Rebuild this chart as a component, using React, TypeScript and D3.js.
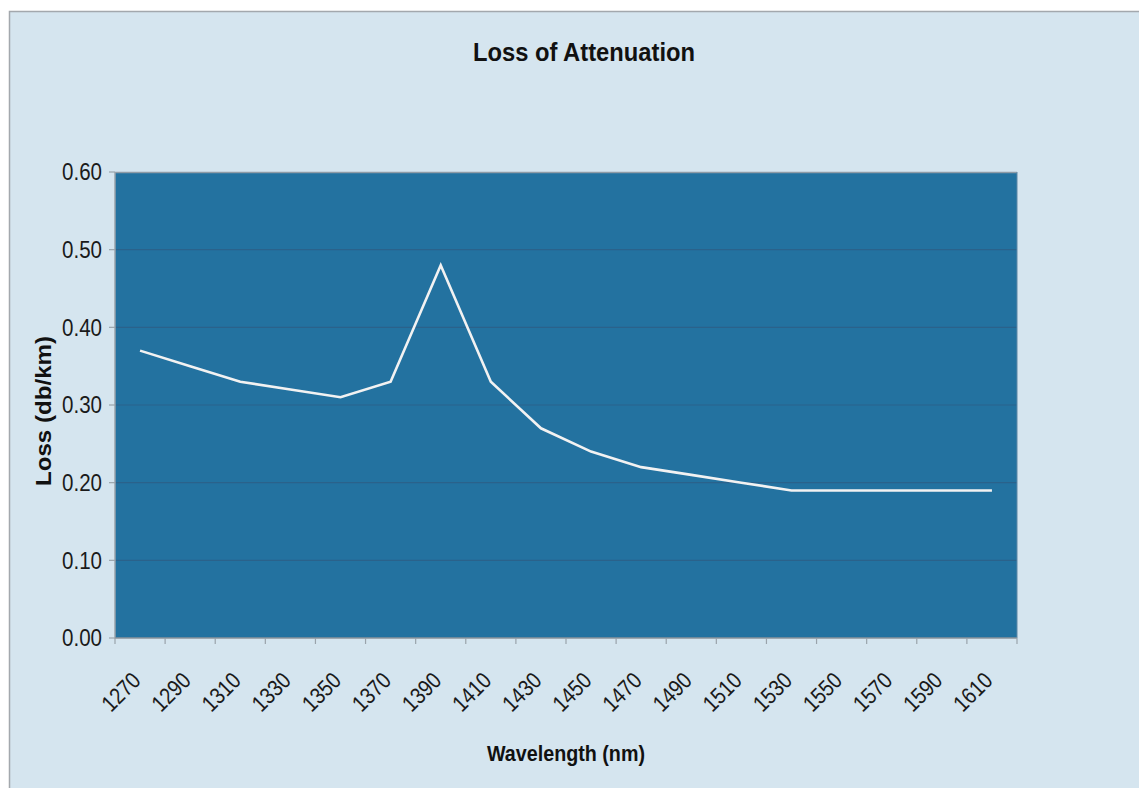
import React from "react";
import * as d3 from "d3";

const wavelengths = [1270, 1290, 1310, 1330, 1350, 1370, 1390, 1410, 1430, 1450, 1470, 1490, 1510, 1530, 1550, 1570, 1590, 1610];
const lossValues = [0.37, 0.35, 0.33, 0.32, 0.31, 0.33, 0.48, 0.33, 0.27, 0.24, 0.22, 0.21, 0.2, 0.19, 0.19, 0.19, 0.19, 0.19];
const yTicks = [0, 0.1, 0.2, 0.3, 0.4, 0.5, 0.6];

const W = 1139;
const H = 788;
const plot = { left: 115, top: 172, right: 1017, bottom: 638 };

export default function App() {
  const x = d3
    .scaleBand<number>()
    .domain(wavelengths)
    .range([plot.left, plot.right])
    .padding(0);
  const y = d3.scaleLinear().domain([0, 0.6]).range([plot.bottom, plot.top]);
  const line = d3
    .line<number>()
    .x((_, i) => (x(wavelengths[i]) as number) + x.bandwidth() / 2)
    .y((d) => y(d));

  const tickXs = wavelengths.map((w) => x(w) as number).concat([plot.right]);
  const font = "'Liberation Sans', Arial, sans-serif";

  return (
    <svg
      width={W}
      height={H}
      style={{ position: "absolute", left: 0, top: 0, background: "#ffffff" }}
    >
      <rect x={9.5} y={11.5} width={1300} height={1000} fill="#d5e5ef" stroke="#a3a8ad" strokeWidth={1.5} />
      <text
        x={584}
        y={61}
        textAnchor="middle"
        fontFamily={font}
        fontWeight="bold"
        fontSize={26}
        textLength={222}
        lengthAdjust="spacingAndGlyphs"
        fill="#111"
      >
        Loss of Attenuation
      </text>

      <rect
        x={plot.left}
        y={plot.top}
        width={plot.right - plot.left}
        height={plot.bottom - plot.top}
        fill="#2372a0"
      />
      {yTicks.slice(1, -1).map((t) => (
        <line
          key={t}
          x1={plot.left}
          x2={plot.right}
          y1={y(t)}
          y2={y(t)}
          stroke="#2a628b"
          strokeWidth={1.2}
        />
      ))}
      <line x1={plot.left} x2={plot.right} y1={plot.top + 0.5} y2={plot.top + 0.5} stroke="#8e9ba6" strokeWidth={1.5} />
      <line x1={plot.right} x2={plot.right} y1={plot.top} y2={plot.bottom} stroke="#5f88a6" strokeWidth={1} />
      <line x1={plot.left} x2={plot.left} y1={plot.top} y2={plot.bottom + 0.5} stroke="#9aa3ab" strokeWidth={1.5} />
      <line x1={plot.left} x2={plot.right} y1={plot.bottom} y2={plot.bottom} stroke="#8a939b" strokeWidth={1.5} />

      {yTicks.map((t) => (
        <g key={t}>
          <line x1={plot.left - 6} x2={plot.left} y1={y(t)} y2={y(t)} stroke="#9aa3ab" strokeWidth={1.2} />
          <text
            x={102}
            y={y(t)}
            dy="0.36em"
            textAnchor="end"
            fontFamily={font}
            fontSize={23}
            textLength={40}
            lengthAdjust="spacingAndGlyphs"
            fill="#1a1a1a"
          >
            {t.toFixed(2)}
          </text>
        </g>
      ))}

      {tickXs.map((tx, i) => (
        <line key={i} x1={tx} x2={tx} y1={plot.bottom} y2={plot.bottom + 6} stroke="#9aa3ab" strokeWidth={1.2} />
      ))}
      {wavelengths.map((w) => {
        const cx = (x(w) as number) + x.bandwidth() / 2;
        return (
          <text
            key={w}
            transform={`translate(${cx + 2},${682}) rotate(-45)`}
            textAnchor="end"
            fontFamily={font}
            fontSize={23}
            textLength={44}
            lengthAdjust="spacingAndGlyphs"
            fill="#1a1a1a"
          >
            {w}
          </text>
        );
      })}

      <path d={line(lossValues) || ""} fill="none" stroke="#f2f2f2" strokeWidth={2.6} strokeLinejoin="miter" />

      <text
        transform={`translate(51,411) rotate(-90)`}
        textAnchor="middle"
        fontFamily={font}
        fontWeight="bold"
        fontSize={22}
        textLength={150}
        lengthAdjust="spacingAndGlyphs"
        fill="#111"
      >
        Loss (db/km)
      </text>
      <text
        x={566}
        y={761}
        textAnchor="middle"
        fontFamily={font}
        fontWeight="bold"
        fontSize={22}
        textLength={158}
        lengthAdjust="spacingAndGlyphs"
        fill="#111"
      >
        Wavelength (nm)
      </text>
    </svg>
  );
}
